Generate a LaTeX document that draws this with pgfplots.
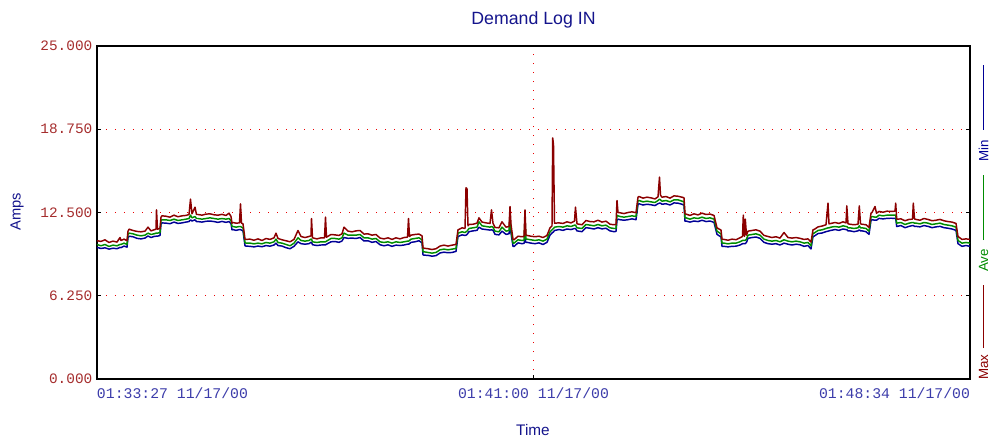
\documentclass[border=0pt]{standalone}
\usepackage{fontspec}
\setmainfont{Liberation Sans}
\setmonofont{Liberation Mono}
\usepackage{pgfplots}
\usepackage{pgfplotstable}
\pgfplotsset{compat=1.18}
\definecolor{maxc}{RGB}{139,0,0}
\definecolor{avec}{RGB}{0,140,0}
\definecolor{minc}{RGB}{0,0,150}
\definecolor{titlec}{RGB}{20,20,140}
\definecolor{ytickc}{RGB}{165,45,45}
\definecolor{xtickc}{RGB}{60,60,170}
\definecolor{gridc}{RGB}{235,0,0}

\pgfplotstableread{
x max ave min
97 10.38 10.10 9.88
101 10.33 10.00 9.80
105 10.45 10.10 9.85
109 10.25 9.95 9.75
113 10.35 10.05 9.82
117 10.28 10.00 9.78
120 10.62 10.10 9.88
121 10.40 10.10 9.86
124 10.50 10.20 9.98
127 10.38 10.10 9.90
128 11.10 10.85 10.60
129 11.25 10.95 10.72
133 11.15 10.90 10.68
137 11.08 10.80 10.56
141 11.05 10.75 10.52
145 11.10 10.80 10.58
148 11.40 10.95 10.74
151 11.12 10.85 10.62
154 11.20 10.90 10.70
156 11.25 10.95 10.72
156.5 12.70 10.95 10.72
157.5 11.25 10.95 10.72
160 11.30 11.00 10.78
161 12.15 11.90 11.62
162 12.25 11.95 11.72
166 12.22 11.95 11.70
170 12.15 11.90 11.66
174 12.30 12.00 11.78
178 12.18 11.90 11.68
182 12.25 11.95 11.72
186 12.28 12.00 11.78
189 12.35 12.05 11.82
190.5 13.50 12.30 11.95
192 12.40 12.10 11.86
195 12.90 12.20 11.95
196.5 12.35 12.05 11.82
198 12.35 12.05 11.82
202 12.30 12.00 11.78
206 12.38 12.05 11.84
210 12.40 12.10 11.86
214 12.33 12.05 11.82
218 12.30 12.00 11.76
222 12.36 12.05 11.83
226 12.28 12.00 11.76
229 12.45 12.05 11.82
231 12.20 11.90 11.66
232 11.70 11.45 11.20
233 11.75 11.45 11.22
236 11.70 11.40 11.16
239.5 11.72 11.45 11.22
240.5 13.15 11.45 11.22
241.5 11.70 11.40 11.18
243 11.65 11.35 11.12
245 10.50 10.25 10.00
246 10.48 10.20 9.98
250 10.50 10.20 9.96
254 10.42 10.15 9.92
258 10.52 10.20 9.98
262 10.40 10.15 9.93
266 10.55 10.25 10.02
270 10.48 10.20 9.97
274 10.60 10.30 10.06
276 10.95 10.50 10.20
278 10.55 10.25 10.02
282 10.45 10.20 9.98
286 10.38 10.10 9.86
290 10.30 10.00 9.78
294 10.48 10.20 9.96
298 11.15 10.60 10.30
301 10.70 10.40 10.16
305 10.62 10.35 10.12
309 10.70 10.40 10.16
311 10.75 10.50 10.26
311.5 12.05 10.50 10.26
312.5 10.60 10.30 10.08
317 10.52 10.25 10.02
321 10.60 10.30 10.06
324.5 10.60 10.30 10.07
325.5 12.15 10.30 10.07
326.5 10.65 10.35 10.12
331 10.85 10.55 10.30
335 10.82 10.55 10.32
339 10.78 10.50 10.26
342 10.90 10.60 10.36
344 11.40 10.95 10.62
348 11.10 10.80 10.56
352 11.05 10.80 10.58
356 11.12 10.80 10.55
360 11.15 10.85 10.62
364 10.88 10.60 10.36
368 10.90 10.60 10.38
372 10.80 10.50 10.26
376 10.85 10.55 10.32
380 10.58 10.30 10.08
384 10.52 10.25 10.00
388 10.60 10.30 10.07
392 10.48 10.20 9.96
396 10.60 10.30 10.05
400 10.52 10.25 10.02
404 10.62 10.30 10.06
407.5 10.65 10.35 10.12
408.5 12.05 10.35 10.12
409.5 10.70 10.40 10.16
411 10.80 10.50 10.26
415 10.85 10.55 10.30
419 10.88 10.60 10.38
422 10.75 10.45 10.22
423 9.85 9.55 9.32
424 9.82 9.55 9.30
428 9.78 9.50 9.28
432 9.72 9.45 9.22
436 9.78 9.50 9.26
440 9.98 9.70 9.46
444 10.05 9.75 9.52
448 9.98 9.70 9.48
452 10.05 9.75 9.50
456 10.10 9.80 9.58
458 11.20 10.95 10.70
462 11.35 11.05 10.82
465 11.30 11.00 10.78
466 14.35 11.05 10.80
467 14.30 11.10 10.85
468 11.50 11.20 10.95
469 11.60 11.30 11.06
473 11.62 11.35 11.12
477 11.70 11.40 11.16
479 12.10 11.80 11.40
482 11.78 11.50 11.26
486 11.72 11.45 11.22
490 11.68 11.40 11.18
491.5 12.70 11.45 11.20
493 11.70 11.40 11.16
495 11.38 11.10 10.86
499 11.35 11.05 10.82
502 11.80 11.40 11.10
506 11.40 11.10 10.86
509 11.45 11.15 10.90
510 12.95 12.20 11.40
511 11.60 11.20 10.95
513 10.50 10.20 9.96
514 10.45 10.20 9.95
518 10.72 10.45 10.22
522 10.68 10.40 10.16
524 10.70 10.40 10.18
525 12.70 12.05 10.50
526 10.80 10.50 10.25
527 10.78 10.50 10.26
531 10.72 10.45 10.20
535 10.68 10.40 10.16
539 10.72 10.45 10.22
543 10.62 10.35 10.10
547 10.78 10.50 10.26
550 11.35 11.05 10.80
552 11.50 11.20 10.96
552.7 18.10 11.25 11.00
553.5 17.60 11.30 11.05
554.5 11.70 11.40 11.15
559 11.72 11.45 11.22
563 11.68 11.40 11.16
567 11.80 11.50 11.26
571 11.72 11.45 11.22
574.5 11.85 11.55 11.30
575.5 12.90 11.55 11.30
577 11.65 11.35 11.12
582 11.58 11.30 11.06
586 11.90 11.60 11.36
590 11.82 11.55 11.32
594 11.80 11.50 11.26
598 11.92 11.60 11.36
602 11.78 11.50 11.27
606 11.85 11.55 11.32
610 11.62 11.35 11.12
614 11.58 11.30 11.06
616 11.60 11.30 11.08
617 13.40 12.30 11.90
618 12.50 12.25 12.00
620 12.48 12.20 11.96
624 12.42 12.15 11.92
628 12.50 12.20 11.96
632 12.55 12.25 12.02
636 12.48 12.20 11.96
638 13.65 13.40 13.10
639 13.70 13.40 13.16
643 13.58 13.30 13.06
647 13.65 13.35 13.12
651 13.60 13.30 13.08
655 13.52 13.25 13.02
658 13.68 13.40 13.16
659.5 15.15 13.50 13.20
660.5 13.80 13.45 13.20
662 13.65 13.35 13.12
666 13.70 13.40 13.16
670 13.58 13.30 13.06
674 13.75 13.45 13.22
678 13.72 13.45 13.20
682 13.65 13.35 13.12
684 13.60 13.30 13.05
685 12.40 12.10 11.85
686 12.38 12.10 11.86
690 12.28 12.00 11.78
694 12.40 12.10 11.86
698 12.32 12.05 11.82
702 12.45 12.15 11.92
706 12.35 12.05 11.82
710 12.38 12.10 11.86
714 12.28 12.00 11.76
717 11.35 11.10 10.86
721 11.18 10.90 10.66
722 10.50 10.20 9.96
724 10.48 10.20 9.96
728 10.42 10.15 9.92
732 10.50 10.20 9.96
736 10.46 10.20 9.97
740 10.60 10.30 10.06
742.5 10.70 10.40 10.16
743.3 12.30 10.40 10.16
744.5 10.70 10.40 10.16
745.3 12.00 10.40 10.16
746.5 10.80 10.50 10.26
748 11.10 10.80 10.56
752 11.15 10.85 10.62
756 11.20 10.90 10.66
760 11.10 10.80 10.56
764 10.78 10.50 10.26
768 10.70 10.40 10.16
772 10.62 10.35 10.12
776 10.68 10.40 10.16
780 10.58 10.30 10.06
784 11.00 10.45 10.20
788 10.62 10.35 10.12
792 10.58 10.30 10.06
796 10.62 10.35 10.12
800 10.56 10.30 10.08
804 10.48 10.20 9.96
808 10.52 10.25 10.02
811 10.28 10.00 9.76
813 11.20 10.95 10.70
814 11.22 10.95 10.72
818 11.42 11.15 10.92
822 11.48 11.20 10.96
826 11.58 11.30 11.06
828 13.20 11.35 11.10
829 11.65 11.35 11.12
831 11.68 11.40 11.16
835 11.75 11.45 11.22
839 11.68 11.40 11.16
843 11.80 11.50 11.26
846 11.72 11.45 11.22
846.8 13.00 11.45 11.22
848 11.65 11.35 11.12
850 11.62 11.35 11.12
854 11.58 11.30 11.06
858 11.62 11.35 11.12
859.3 13.00 11.50 11.20
860.5 11.65 11.35 11.12
862 11.62 11.35 11.12
866 11.58 11.30 11.06
869 11.38 11.10 10.86
871 12.45 12.15 11.90
872 12.50 12.20 11.96
875 12.95 12.15 11.92
876.5 12.45 12.15 11.92
879 12.58 12.30 12.06
883 12.52 12.25 12.02
887 12.60 12.30 12.06
891 12.58 12.30 12.07
895 12.60 12.30 12.06
895.7 13.20 12.30 12.06
896.7 12.00 11.70 11.45
901 12.02 11.75 11.52
905 11.88 11.60 11.36
909 11.98 11.70 11.46
912.5 12.00 11.75 11.52
913.3 13.20 11.75 11.52
914.5 12.02 11.70 11.46
916 11.98 11.70 11.46
920 11.92 11.65 11.42
924 12.05 11.75 11.52
928 11.98 11.70 11.46
932 11.88 11.60 11.36
936 11.92 11.65 11.42
940 11.98 11.70 11.46
944 11.88 11.60 11.36
948 11.82 11.55 11.32
952 11.78 11.50 11.26
956 11.68 11.40 11.16
958 10.70 10.40 10.16
962 10.48 10.20 9.96
966 10.52 10.25 10.02
970 10.48 10.20 9.96
}\demand

\begin{document}
\begin{tikzpicture}
\useasboundingbox (-72.75pt,-45.75pt) rectangle (669.75pt,284.25pt);
\begin{axis}[
  at={(0,0)}, anchor=south west,
  width=654.75pt, height=249.75pt, scale only axis,
  xmin=97, xmax=970, ymin=0, ymax=25,
  xtick={97,533.5,970},
  xticklabels={\makebox[0pt][l]{01:33:27 11/17/00},01:41:00 11/17/00,\makebox[0pt][r]{01:48:34 11/17/00}},
  ytick={0,6.25,12.5,18.75,25},
  yticklabels={0.000,6.250,12.500,18.750,25.000},
  xtick pos=bottom,
  tick align=inside,
  major tick length=3pt,
  every tick/.style={draw=black, line width=0.6pt},
  xmajorgrids, ymajorgrids,
  every major grid/.style={draw=gridc, line width=1pt, dash pattern=on 1pt off 5.75pt},
  every axis grid/.style={},
  axis line style={draw=black, line width=1pt},
  /pgf/number format/assume math mode=true,
  xticklabel style={font=\ttfamily\fontsize{11.1}{12}\selectfont, text=xtickc, anchor=north, yshift=-3pt},
  yticklabel style={font=\ttfamily\fontsize{10.8}{12}\selectfont, text=ytickc},
  title={Demand Log IN},
  title style={font=\fontsize{13.3}{15}\selectfont, text=titlec, at={(axis description cs:0.5,1.054)}, anchor=center},
  xlabel={Time},
  xlabel style={font=\fontsize{11.5}{13}\selectfont, text=titlec, at={(axis description cs:0.4994,-0.153)}, anchor=center},
  ylabel={Amps},
  ylabel style={font=\fontsize{11}{13}\selectfont, text=titlec, at={(axis description cs:-0.0916,0.5015)}, anchor=center},
  clip=false,
]
\addplot[no markers, draw=minc, line width=1.1pt, line join=round] table[x=x,y=min]{\demand};
\addplot[no markers, draw=avec, line width=1.1pt, line join=round] table[x=x,y=ave]{\demand};
\addplot[no markers, draw=maxc, line width=1.1pt, line join=round] table[x=x,y=max]{\demand};
\node[rotate=90, anchor=west, inner sep=0pt, text=maxc, font=\fontsize{10}{12}\selectfont] at (rel axis cs:1.0155,-0.003) {Max};
\draw[draw=maxc, line width=1pt] (rel axis cs:1.0155,0.093) -- (rel axis cs:1.0155,0.282);
\node[rotate=90, anchor=west, inner sep=0pt, text=avec, font=\fontsize{10}{12}\selectfont] at (rel axis cs:1.0155,0.321) {Ave};
\draw[draw=avec, line width=1pt] (rel axis cs:1.0155,0.417) -- (rel axis cs:1.0155,0.613);
\node[rotate=90, anchor=west, inner sep=0pt, text=minc, font=\fontsize{10}{12}\selectfont] at (rel axis cs:1.0155,0.652) {Min};
\draw[draw=minc, line width=1pt] (rel axis cs:1.0155,0.748) -- (rel axis cs:1.0155,0.943);
\end{axis}
\end{tikzpicture}
\end{document}
